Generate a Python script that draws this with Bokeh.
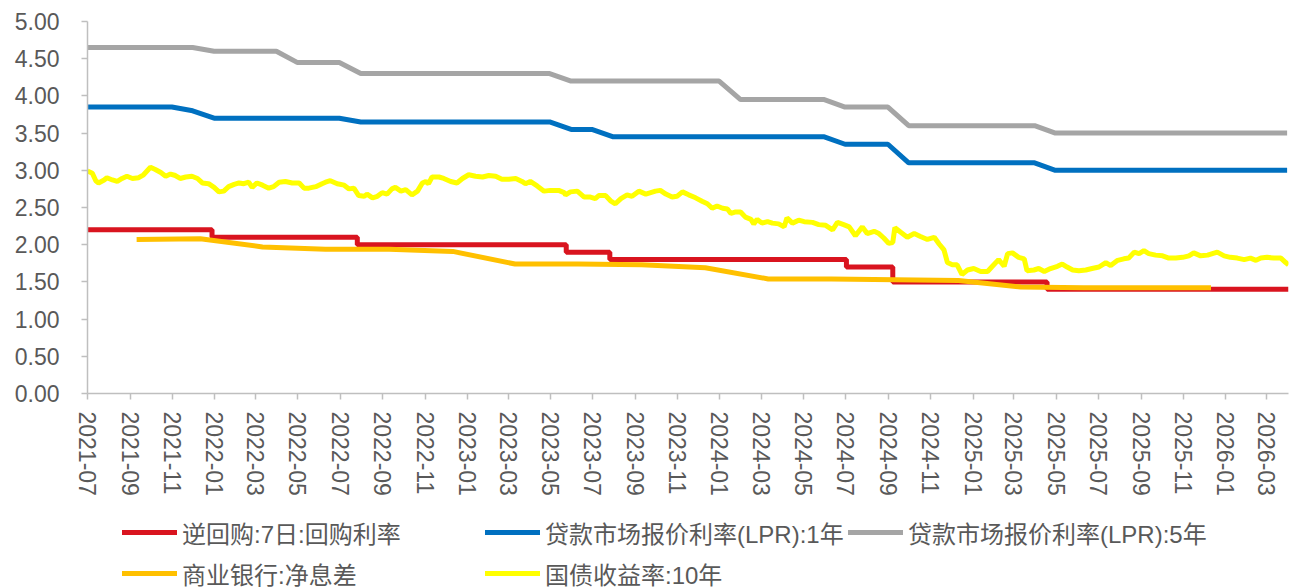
import pandas as pd
from bokeh.plotting import figure
from bokeh.layouts import column
from bokeh.models import (Range1d, FixedTicker, DatetimeTickFormatter, Legend,
                          LegendItem, PrintfTickFormatter)
from bokeh.embed import file_html
from bokeh.resources import INLINE

# ---------------- data ----------------
SERIES_NAMES = ["逆回购:7日:回购利率", "贷款市场报价利率(LPR):1年", "贷款市场报价利率(LPR):5年",
                "商业银行:净息差", "国债收益率:10年"]

# 7-day reverse repo rate (policy changes, step series)
RR7_DATES = ["2021-07-21", "2022-01-17", "2022-08-15", "2023-06-13", "2023-08-15",
             "2024-07-22", "2024-09-27", "2025-05-08", "2026-04-22"]
RR7_VALUES = [2.20, 2.10, 2.00, 1.90, 1.80, 1.70, 1.50, 1.40, 1.40]

# LPR, monthly fixings (20th of each month), 2021-07 .. 2026-04
LPR_FIRST_MONTH = "2021-07"
LPR_LAST_MONTH = "2026-04"
LPR_1Y = [3.85, 3.85, 3.85, 3.85, 3.85, 3.80,
          3.70, 3.70, 3.70, 3.70, 3.70, 3.70, 3.70, 3.65, 3.65, 3.65, 3.65, 3.65,
          3.65, 3.65, 3.65, 3.65, 3.65, 3.55, 3.55, 3.45, 3.45, 3.45, 3.45, 3.45,
          3.45, 3.45, 3.45, 3.45, 3.45, 3.45, 3.35, 3.35, 3.35, 3.10, 3.10, 3.10,
          3.10, 3.10, 3.10, 3.10, 3.00, 3.00, 3.00, 3.00, 3.00, 3.00, 3.00, 3.00,
          3.00, 3.00, 3.00, 3.00]
LPR_5Y = [4.65, 4.65, 4.65, 4.65, 4.65, 4.65,
          4.60, 4.60, 4.60, 4.60, 4.45, 4.45, 4.45, 4.30, 4.30, 4.30, 4.30, 4.30,
          4.30, 4.30, 4.30, 4.30, 4.30, 4.20, 4.20, 4.20, 4.20, 4.20, 4.20, 4.20,
          4.20, 3.95, 3.95, 3.95, 3.95, 3.95, 3.85, 3.85, 3.85, 3.60, 3.60, 3.60,
          3.60, 3.60, 3.60, 3.60, 3.50, 3.50, 3.50, 3.50, 3.50, 3.50, 3.50, 3.50,
          3.50, 3.50, 3.50, 3.50]

# Commercial banks net interest margin, quarterly
NIM_DATES = ["2021-09-30", "2021-12-31", "2022-03-31", "2022-06-30", "2022-09-30",
             "2022-12-31", "2023-03-31", "2023-06-30", "2023-09-30", "2023-12-31",
             "2024-03-31", "2024-06-30", "2024-09-30", "2024-12-31", "2025-03-31",
             "2025-06-30", "2025-09-30", "2025-12-31"]
NIM_VALUES = [2.07, 2.08, 1.97, 1.94, 1.94, 1.91, 1.74, 1.74, 1.73, 1.69,
              1.54, 1.54, 1.53, 1.52, 1.43, 1.42, 1.42, 1.42]

# 10Y government bond yield (days after start date)
CGB10_START = "2021-07-21"
CGB10_DAY = [0, 7, 12, 16, 24, 28, 36, 43, 50, 57, 65, 74, 81, 91, 98, 106, 113, 120, 127, 134,
             142, 151, 159, 166, 175, 183, 190, 197, 204, 212, 219, 226, 233, 238, 245, 253,
             262, 269, 277, 286, 296, 306, 313, 320, 330, 339,
             344, 351, 361, 371, 378, 385, 392, 400, 404, 412, 419, 426, 433, 440, 445, 453,
             460, 469, 477, 484, 489, 493, 498, 508, 515, 525, 534, 542, 551, 561, 571, 580,
             590, 599, 609, 619, 628, 633, 640, 650, 660, 669, 681, 689,
             691, 698, 708, 718, 727, 734, 739, 749, 756, 763, 771, 780, 787, 797, 807, 814,
             821, 828, 836, 845, 852, 860, 869, 879, 889, 896, 903, 910, 918, 925, 930, 937,
             944, 951, 959, 963, 968, 975, 983, 990, 999, 1007, 1011, 1019, 1028, 1036,
             1048, 1057, 1067, 1077, 1084, 1093, 1101, 1110, 1120, 1127, 1137, 1144, 1151,
             1158, 1164, 1167, 1175, 1185, 1195, 1204, 1214, 1224, 1231, 1238, 1243, 1250,
             1257, 1264, 1272, 1281, 1291, 1301, 1308, 1317, 1325, 1330, 1337, 1346, 1354,
             1358, 1368, 1375, 1383,
             1392, 1402, 1409, 1416, 1424, 1433, 1443, 1452, 1462, 1472, 1479, 1489, 1498,
             1505, 1513, 1520, 1527, 1534, 1544, 1554, 1563, 1573, 1583, 1592, 1599, 1609,
             1619, 1626, 1633, 1643, 1652, 1662, 1672, 1681, 1689, 1696, 1705, 1715, 1725,
             1732, 1736]
CGB10_VALUES = [2.99, 2.96, 2.86, 2.83, 2.87, 2.90, 2.87, 2.85, 2.89, 2.92, 2.89, 2.90, 2.94,
                3.04, 3.01, 2.97, 2.92, 2.95, 2.93, 2.89, 2.91, 2.92, 2.89, 2.83, 2.82, 2.77,
                2.71, 2.72, 2.78, 2.81, 2.83, 2.82, 2.84, 2.77, 2.83, 2.80, 2.76, 2.78, 2.84,
                2.85, 2.83, 2.83, 2.76, 2.76, 2.78, 2.82,
                2.84, 2.86, 2.82, 2.80, 2.75, 2.76, 2.66, 2.65, 2.68, 2.63, 2.65, 2.70, 2.68,
                2.75, 2.77, 2.72, 2.74, 2.67, 2.72, 2.83, 2.85, 2.82, 2.91, 2.91, 2.89, 2.85,
                2.83, 2.89, 2.94, 2.92, 2.91, 2.93, 2.92, 2.88, 2.88, 2.89, 2.85, 2.82, 2.85,
                2.79, 2.72, 2.73, 2.73, 2.70,
                2.67, 2.71, 2.72, 2.64, 2.64, 2.62, 2.66, 2.66, 2.59, 2.55, 2.62, 2.67, 2.65,
                2.72, 2.68, 2.70, 2.72, 2.73, 2.68, 2.64, 2.65, 2.71, 2.67, 2.63, 2.58, 2.55,
                2.49, 2.52, 2.49, 2.48, 2.42, 2.44, 2.44, 2.37, 2.34, 2.28, 2.34, 2.29, 2.31,
                2.29, 2.28, 2.24, 2.36, 2.29, 2.33, 2.31,
                2.30, 2.27, 2.26, 2.20, 2.30, 2.27, 2.24, 2.12, 2.24, 2.15, 2.18, 2.15, 2.09,
                2.02, 2.03, 2.23, 2.17, 2.10, 2.15, 2.11, 2.07, 2.10, 2.01, 1.93, 1.76, 1.73,
                1.73, 1.60, 1.66, 1.68, 1.64, 1.64, 1.71, 1.80, 1.71, 1.88, 1.89, 1.83, 1.81,
                1.65, 1.66, 1.68, 1.64,
                1.68, 1.71, 1.74, 1.70, 1.66, 1.65, 1.66, 1.68, 1.70, 1.76, 1.72, 1.79, 1.81,
                1.82, 1.90, 1.88, 1.92, 1.88, 1.86, 1.85, 1.82, 1.82, 1.83, 1.85, 1.89, 1.85,
                1.86, 1.88, 1.90, 1.85, 1.83, 1.82, 1.80, 1.82, 1.79, 1.82, 1.83, 1.82, 1.82,
                1.76, 1.73]

# axis ticks
X_TICK_LABELS = ["2021-07", "2021-09", "2021-11", "2022-01", "2022-03", "2022-05", "2022-07",
                 "2022-09", "2022-11", "2023-01", "2023-03", "2023-05", "2023-07", "2023-09",
                 "2023-11", "2024-01", "2024-03", "2024-05", "2024-07", "2024-09", "2024-11",
                 "2025-01", "2025-03", "2025-05", "2025-07", "2025-09", "2025-11", "2026-01",
                 "2026-03"]
Y_TICKS = [0.0, 0.5, 1.0, 1.5, 2.0, 2.5, 3.0, 3.5, 4.0, 4.5, 5.0]
X_START = "2021-07-21"
X_END = "2026-04-22"

# ---------------- build ----------------
COLORS = ["#D9141F", "#0070C0", "#A5A5A5", "#FFC000", "#FFFF00"]
TEXT = "#595959"
AXIS = "#BFBFBF"
LEG_FONT = "Liberation Sans, Noto Sans CJK SC"
LW = 5

lpr_dates = pd.period_range(LPR_FIRST_MONTH, LPR_LAST_MONTH, freq="M").to_timestamp() + pd.Timedelta(days=19)
cgb_dates = pd.Timestamp(CGB10_START) + pd.to_timedelta(CGB10_DAY, unit="D")
tick_ms = [pd.Timestamp(t + "-21").value / 1e6 for t in X_TICK_LABELS]

W = 1289
H_MAIN = 512
H_LEG = 75

p = figure(width=W, height=H_MAIN, x_axis_type="datetime", output_backend="svg",
           toolbar_location=None, min_border_left=87, min_border_right=1,
           min_border_top=21, min_border_bottom=H_MAIN - 393,
           x_range=Range1d(pd.Timestamp(X_START), pd.Timestamp(X_END)),
           y_range=Range1d(0, 5))
p.outline_line_color = None
p.xgrid.visible = False
p.ygrid.visible = False

p.step(pd.to_datetime(RR7_DATES), RR7_VALUES, mode="after", line_color=COLORS[0], line_width=LW)
p.line(lpr_dates, LPR_1Y, line_color=COLORS[1], line_width=LW)
p.line(lpr_dates, LPR_5Y, line_color=COLORS[2], line_width=LW)
p.line(pd.to_datetime(NIM_DATES), NIM_VALUES, line_color=COLORS[3], line_width=LW)
p.line(cgb_dates, CGB10_VALUES, line_color=COLORS[4], line_width=LW)

for ax in (p.xaxis[0], p.yaxis[0]):
    ax.axis_line_color = AXIS
    ax.axis_line_width = 1.5
    ax.major_tick_line_color = AXIS
    ax.major_tick_line_width = 1.5
    ax.major_tick_out = 6
    ax.major_tick_in = 0
    ax.minor_tick_line_color = None
    ax.major_label_text_color = TEXT
    ax.major_label_text_font = "Liberation Sans"
    ax.major_label_text_font_size = "23px"

p.xaxis.ticker = FixedTicker(ticks=tick_ms)
fmt = "%Y-%m"
p.xaxis.formatter = DatetimeTickFormatter(microseconds=fmt, milliseconds=fmt, seconds=fmt,
                                          minsec=fmt, minutes=fmt, hourmin=fmt, hours=fmt,
                                          days=fmt, months=fmt, years=fmt)
p.xaxis.major_label_orientation = "vertical"
p.xaxis.major_label_standoff = 12

p.yaxis.ticker = FixedTicker(ticks=Y_TICKS)
p.yaxis.formatter = PrintfTickFormatter(format="%.2f")
p.yaxis.major_label_standoff = 22

# ---- legend strip (separate figure below the chart) ----
q = figure(width=W, height=H_LEG, output_backend="svg", toolbar_location=None,
           min_border=0, x_range=Range1d(0, 1), y_range=Range1d(0, 1))
q.axis.visible = False
q.xgrid.visible = False
q.ygrid.visible = False
q.outline_line_color = None
# off-range proxies so the legend can draw each series' line sample
leg_renderers = [q.line([-5, -4], [-5, -5], line_color=c, line_width=LW, line_cap="round")
                 for c in COLORS]

legend = Legend(
    items=[LegendItem(label=n, renderers=[r]) for n, r in zip(SERIES_NAMES, leg_renderers)],
    orientation="horizontal", ncols=3, location=(35, -6),
    glyph_width=55, glyph_height=40, label_height=40, label_width=302,
    label_standoff=5, spacing=1, padding=0, margin=0,
    border_line_color=None, background_fill_alpha=0,
    label_text_font=LEG_FONT, label_text_font_size="24px", label_text_color=TEXT)
q.add_layout(legend, "center")

layout = column(p, q, spacing=0)
open("out.html", "w").write(file_html(layout, INLINE))
